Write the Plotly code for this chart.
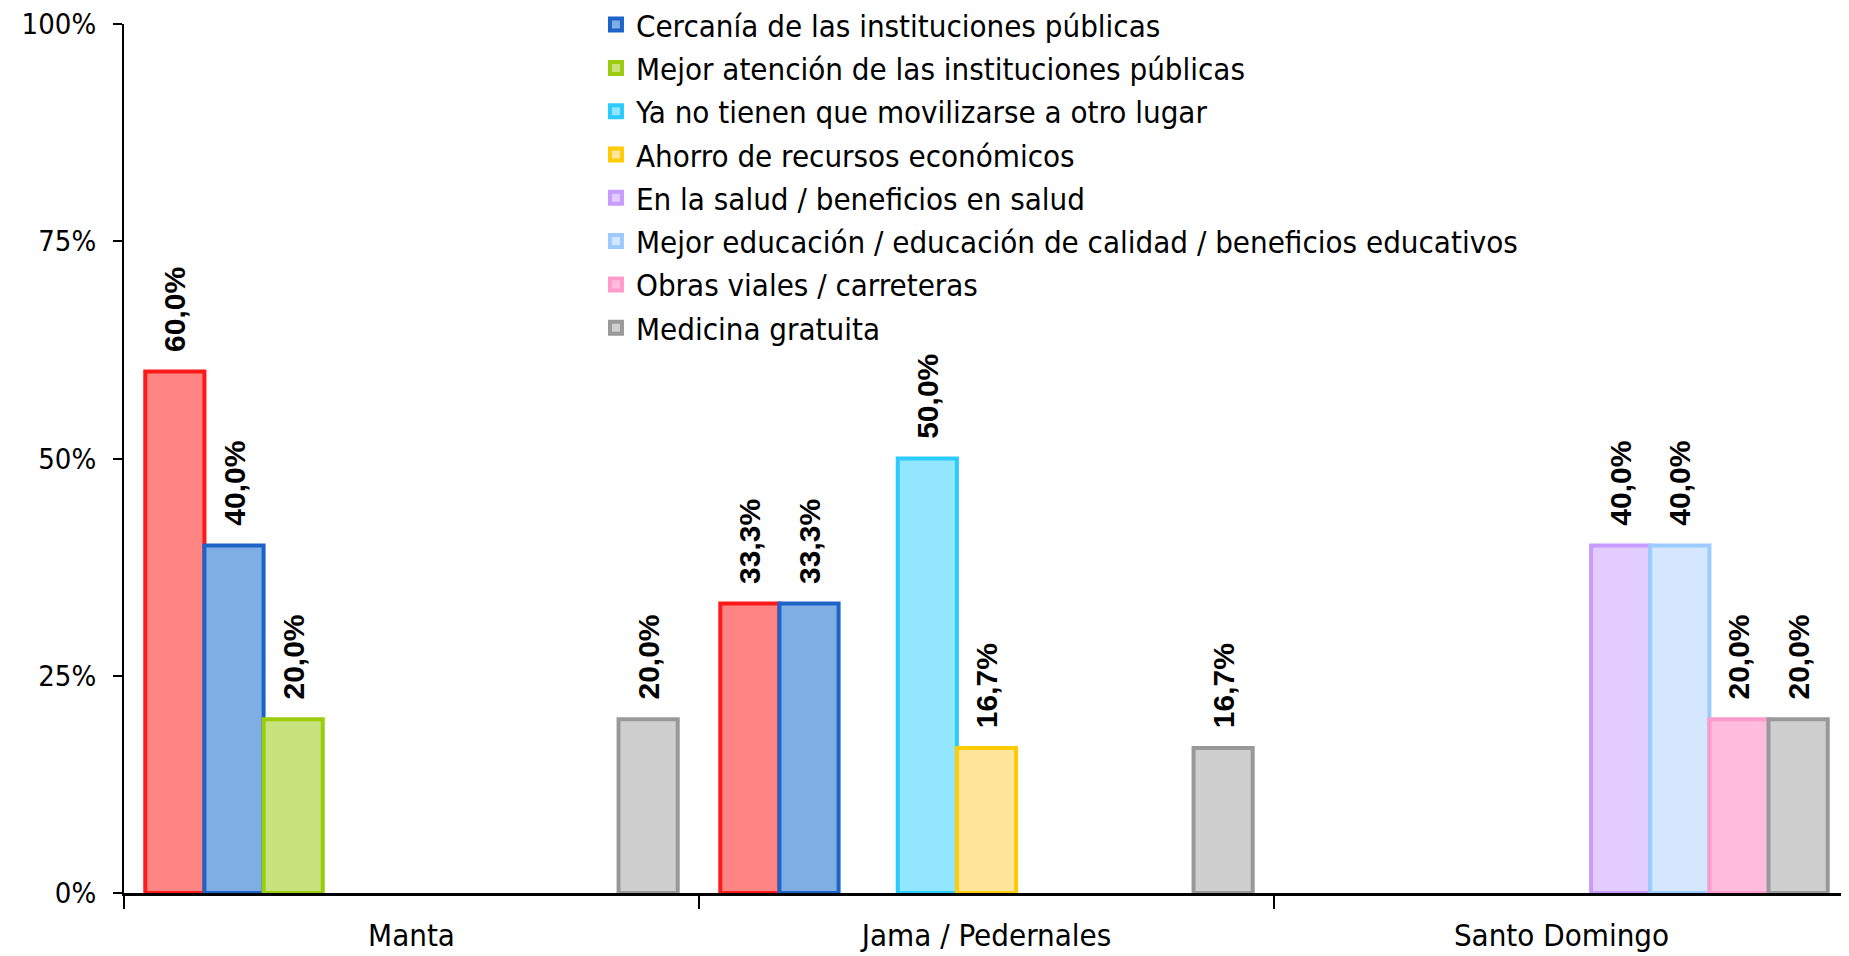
import plotly.graph_objects as go

categories = ["Manta", "Jama / Pedernales", "Santo Domingo"]

series_names = [
    "Otro",
    "Cercanía de las instituciones públicas",
    "Mejor atención de las instituciones públicas",
    "Ya no tienen que movilizarse a otro lugar",
    "Ahorro de recursos económicos",
    "En la salud / beneficios en salud",
    "Mejor educación / educación de calidad / beneficios educativos",
    "Obras viales / carreteras",
    "Medicina gratuita",
]

otro = [0.60, 0.333, None]
cercania = [0.40, 0.333, None]
mejor_atencion = [0.20, None, None]
movilizarse = [None, 0.50, None]
ahorro = [None, 0.167, None]
salud = [None, None, 0.40]
educacion = [None, None, 0.40]
obras = [None, None, 0.20]
medicina = [0.20, 0.167, 0.20]

series_values = [otro, cercania, mejor_atencion, movilizarse, ahorro,
                 salud, educacion, obras, medicina]

fill_colors = ["#FF8585", "#7EAEE4", "#C8E37E", "#93E6FF", "#FFE69A",
               "#E3CCFF", "#D4E7FF", "#FFBCDC", "#CFCFCF"]
edge_colors = ["#FF1A1A", "#1C64C8", "#9ACB0C", "#2CCBFF", "#FFCB05",
               "#C89BFF", "#9CCBFF", "#FF9BCB", "#999999"]

NARROW = "Liberation Sans Narrow, Arial Narrow, DejaVu Sans Condensed, sans-serif"
BOLD = "Liberation Sans, Arial, sans-serif"

fig = go.Figure()
for i, (name, vals) in enumerate(zip(series_names, series_values)):
    fig.add_trace(go.Bar(
        x=categories,
        y=vals,
        name=name,
        showlegend=(i != 0),
        marker=dict(color=fill_colors[i], line=dict(color=edge_colors[i], width=4)),
        texttemplate="\u00a0\u00a0%{y:.1%}",
        textposition="outside",
        textangle=-90,
        textfont=dict(family=BOLD, size=30, color="black", weight="bold"),
        cliponaxis=False,
        constraintext="none",
    ))

fig.update_layout(
    width=1841,
    height=948,
    barmode="group",
    bargap=0.074,
    bargroupgap=0,
    separators=",.",
    plot_bgcolor="white",
    paper_bgcolor="white",
    margin=dict(l=116, r=0, t=16, b=63, autoexpand=False),
    font=dict(family=NARROW, size=30, color="black"),
    legend=dict(
        x=0.2736, y=1.03, xanchor="left", yanchor="top",
        font=dict(family=NARROW, size=31, color="black"),
        bgcolor="rgba(0,0,0,0)",
        tracegroupgap=0,
        itemwidth=30,
    ),
    xaxis=dict(
        showline=True, linecolor="black", linewidth=3,
        ticks="outside", ticklen=13, tickwidth=2, tickcolor="black",
        tickson="boundaries",
        showgrid=False,
        ticklabelstandoff=13,
        ticklabeloverflow="allow",
        tickfont=dict(family=NARROW, size=31),
    ),
    yaxis=dict(
        range=[0, 1],
        tickvals=[0, 0.25, 0.5, 0.75, 1.0],
        tickformat=".0%",
        showline=True, linecolor="black", linewidth=2,
        ticks="outside", ticklen=9, tickwidth=2, tickcolor="black",
        showgrid=False, zeroline=False,
        ticklabelstandoff=11,
        ticklabeloverflow="allow",
        tickfont=dict(family=NARROW, size=29),
    ),
)

fig.write_html("out.html")
